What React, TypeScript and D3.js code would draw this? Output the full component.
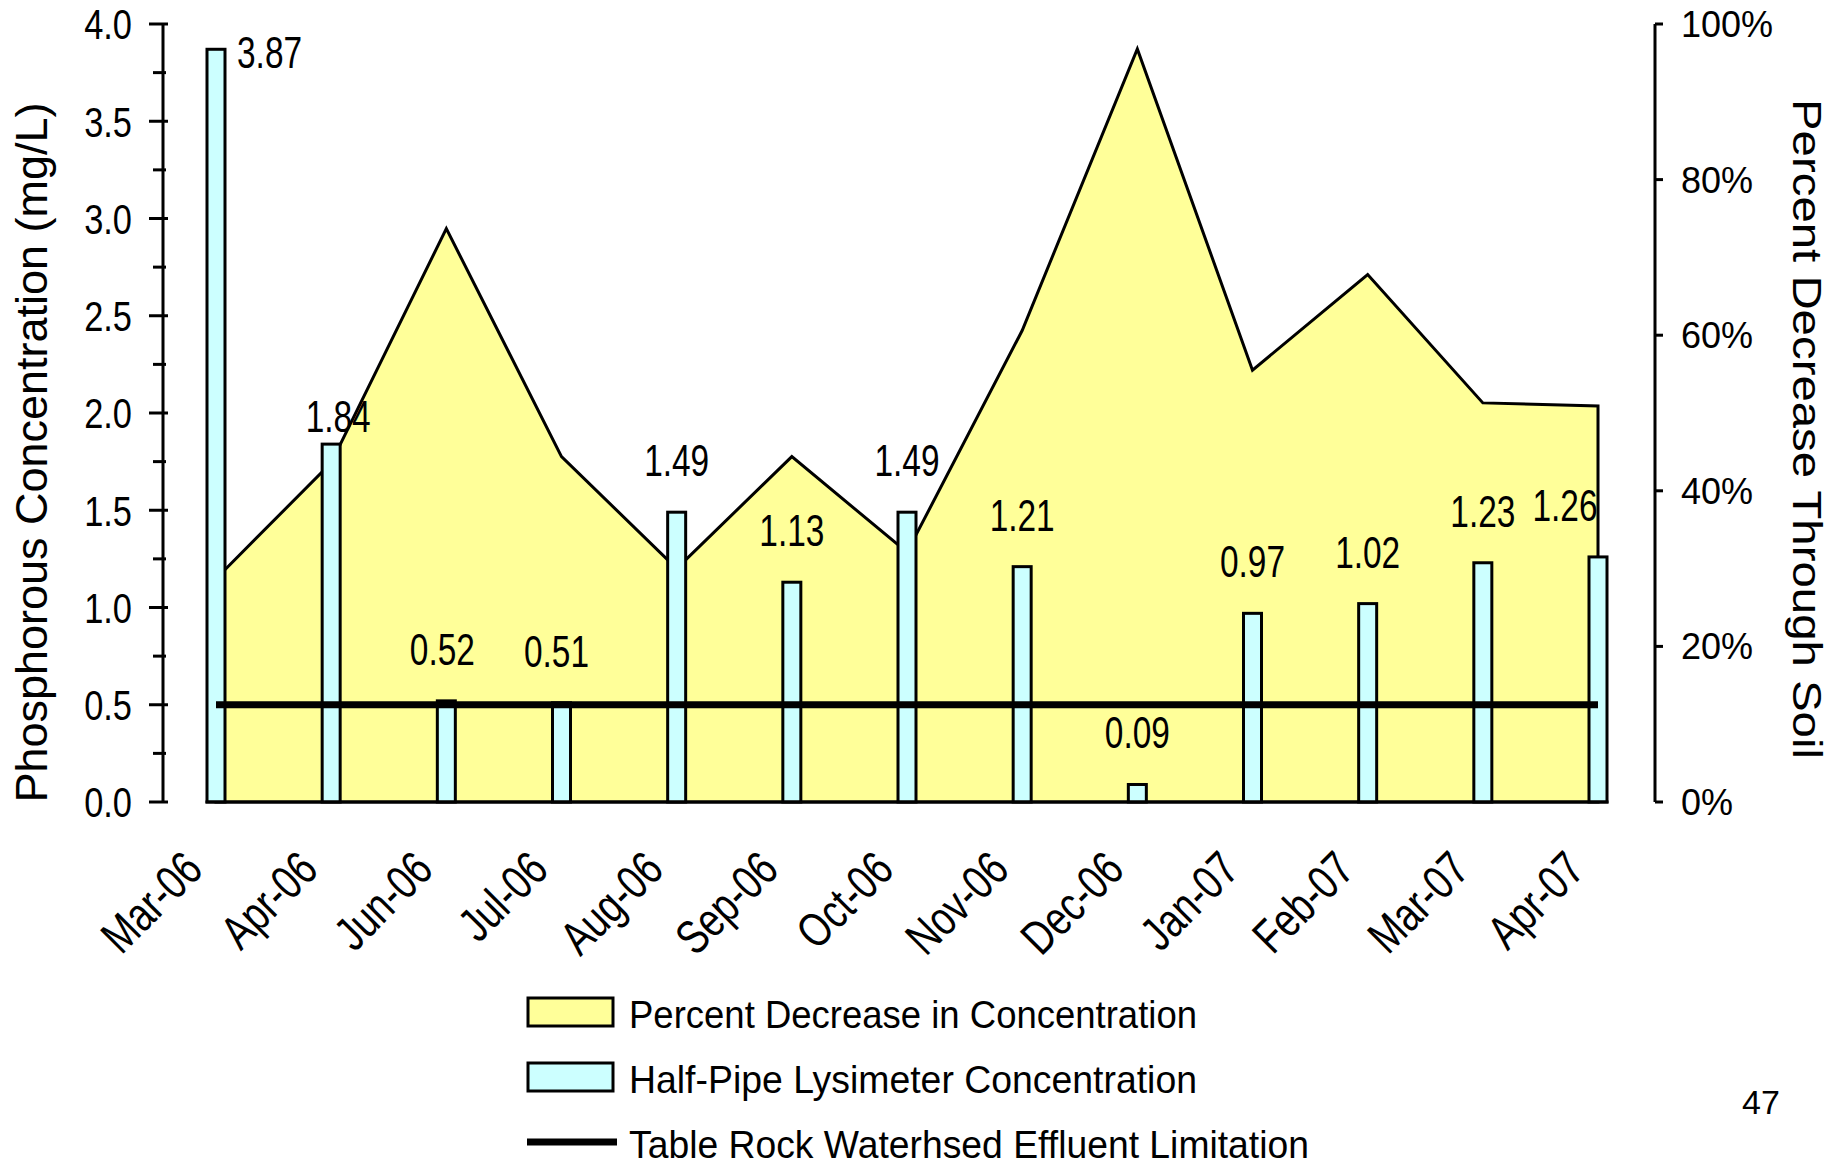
import React from "react";
import * as d3 from "d3";

// Monthly sampling dates
const categories = [
  "Mar-06", "Apr-06", "Jun-06", "Jul-06", "Aug-06", "Sep-06", "Oct-06",
  "Nov-06", "Dec-06", "Jan-07", "Feb-07", "Mar-07", "Apr-07",
];

// Half-pipe lysimeter phosphorous concentration (mg/L)
const lysimeter = [3.87, 1.84, 0.52, 0.51, 1.49, 1.13, 1.49, 1.21, 0.09, 0.97, 1.02, 1.23, 1.26];

// Percent decrease in concentration through soil (fraction)
const percentDecrease = [0.287, 0.436, 0.737, 0.444, 0.30, 0.444, 0.321, 0.606, 0.968, 0.555, 0.678, 0.513, 0.509];

// Table Rock watershed effluent limitation (mg/L)
const effluentLimit = 0.5;

const leftTicks = [0, 0.5, 1, 1.5, 2, 2.5, 3, 3.5, 4];
const leftMinorTicks = [0.25, 0.75, 1.25, 1.75, 2.25, 2.75, 3.25, 3.75];
const rightTicks = [0, 0.2, 0.4, 0.6, 0.8, 1];

// Manual nudges for a few data labels (px)
const labelDx = [0, 7, -4, -5, 0, 0, 0, 0, 0, 0, 0, 0, -33];
const labelDy = [0, 24, 0, 0, 0, 0, 0, 0, 0, 0, 0, 0, 0];

const legendItems = [
  { label: "Percent Decrease in Concentration", kind: "area", len: 568 },
  { label: "Half-Pipe Lysimeter Concentration", kind: "bar", len: 568 },
  { label: "Table Rock Waterhsed Effluent Limitation", kind: "line", len: 680 },
];

const W = 1831;
const H = 1167;
const AREA_FILL = "#FFFF99";
const BAR_FILL = "#CCFFFF";
const SANS = "'Liberation Sans', Arial, sans-serif";

// Horizontally condensed text, positioned at (x, y) with optional rotation
function CText({
  x, y, rotate = 0, sx = 0.8, size = 40, anchor = "start", dy, children,
}: {
  x: number; y: number; rotate?: number; sx?: number; size?: number;
  anchor?: string; dy?: string; children: React.ReactNode;
}) {
  return (
    <text
      transform={`translate(${x}, ${y}) rotate(${rotate}) scale(${sx}, 1)`}
      textAnchor={anchor}
      dy={dy}
      fontFamily={SANS}
      fontSize={size}
      fill="#000"
    >
      {children}
    </text>
  );
}

export default function App() {
  const x = d3.scalePoint<string>().domain(categories).range([216, 1598]);
  const yL = d3.scaleLinear().domain([0, 4]).range([802, 24]);
  const yR = d3.scaleLinear().domain([0, 1]).range([802, 24]);
  const barW = 18;

  const areaGen = d3
    .area<number>()
    .x((_, i) => x(categories[i]) as number)
    .y0(yR(0))
    .y1((d) => yR(d));

  const axisLeftX = 163;
  const axisRightX = 1655;
  const firstX = x(categories[0]) as number;
  const lastX = x(categories[categories.length - 1]) as number;

  return (
    <svg
      width={W}
      height={H}
      viewBox={`0 0 ${W} ${H}`}
      style={{ position: "absolute", left: 0, top: 0, background: "#fff" }}
    >
      {/* Percent decrease area (right axis) */}
      <path
        d={areaGen(percentDecrease) || ""}
        fill={AREA_FILL}
        stroke="#000"
        strokeWidth={3}
        strokeLinejoin="miter"
      />

      {/* Lysimeter bars (left axis) */}
      {lysimeter.map((v, i) => {
        const cx = x(categories[i]) as number;
        return (
          <rect
            key={categories[i]}
            x={cx - barW / 2}
            y={yL(v)}
            width={barW}
            height={yL(0) - yL(v)}
            fill={BAR_FILL}
            stroke="#000"
            strokeWidth={3}
          />
        );
      })}

      {/* Effluent limitation line */}
      <line
        x1={firstX}
        x2={lastX}
        y1={yL(effluentLimit)}
        y2={yL(effluentLimit)}
        stroke="#000"
        strokeWidth={7}
      />

      {/* Category baseline */}
      <line
        x1={firstX - barW / 2 - 1.5}
        x2={lastX + barW / 2 + 1.5}
        y1={yL(0)}
        y2={yL(0)}
        stroke="#000"
        strokeWidth={3}
      />

      {/* Bar value labels */}
      {lysimeter.map((v, i) => {
        const cx = x(categories[i]) as number;
        if (i === 0) {
          return (
            <CText key={"l" + i} x={cx + barW / 2 + 12} y={yL(v) + 19} sx={0.76} size={44}>
              {v.toFixed(2)}
            </CText>
          );
        }
        return (
          <CText
            key={"l" + i}
            x={cx + labelDx[i]}
            y={yL(v) - 36 + labelDy[i]}
            anchor="middle"
            sx={0.76}
            size={44}
          >
            {v.toFixed(2)}
          </CText>
        );
      })}

      {/* Left axis */}
      <line x1={axisLeftX} x2={axisLeftX} y1={yL(4)} y2={yL(0)} stroke="#000" strokeWidth={3} />
      {leftTicks.map((t) => (
        <g key={"lt" + t}>
          <line x1={axisLeftX - 14} x2={axisLeftX + 5} y1={yL(t)} y2={yL(t)} stroke="#000" strokeWidth={3} />
          <CText x={132} y={yL(t)} dy="0.36em" anchor="end" sx={0.8} size={43}>
            {t.toFixed(1)}
          </CText>
        </g>
      ))}
      {leftMinorTicks.map((t) => (
        <line key={"lm" + t} x1={axisLeftX - 10} x2={axisLeftX + 3} y1={yL(t)} y2={yL(t)} stroke="#000" strokeWidth={3} />
      ))}
      <text
        transform={`translate(47, ${(yL(0) + 103) / 2}) rotate(-90)`}
        textAnchor="middle"
        fontFamily={SANS}
        fontSize={44}
        textLength={700}
        lengthAdjust="spacingAndGlyphs"
        fill="#000"
      >
        Phosphorous Concentration (mg/L)
      </text>

      {/* Right axis */}
      <line x1={axisRightX} x2={axisRightX} y1={yR(1)} y2={yR(0)} stroke="#000" strokeWidth={3} />
      {rightTicks.map((t) => (
        <g key={"rt" + t}>
          <line x1={axisRightX} x2={axisRightX + 8} y1={yR(t)} y2={yR(t)} stroke="#000" strokeWidth={3} />
          <text x={1681} y={yR(t)} dy="0.36em" fontFamily={SANS} fontSize={36} fill="#000">
            {d3.format(".0%")(t)}
          </text>
        </g>
      ))}
      <text
        transform={`translate(1793, 429) rotate(90)`}
        textAnchor="middle"
        fontFamily={SANS}
        fontSize={41}
        textLength={660}
        lengthAdjust="spacingAndGlyphs"
        fill="#000"
      >
        Percent Decrease Through Soil
      </text>

      {/* Category labels */}
      {categories.map((c) => {
        const cx = x(c) as number;
        return (
          <CText key={"c" + c} x={cx - 11} y={872} rotate={-45} anchor="end" sx={0.78} size={48}>
            {c}
          </CText>
        );
      })}

      {/* Legend */}
      {legendItems.map((it, i) => {
        const rowY = 1012 + i * 65;
        return (
          <g key={it.label}>
            {it.kind === "line" ? (
              <line x1={527} x2={617} y1={rowY} y2={rowY} stroke="#000" strokeWidth={7} />
            ) : (
              <rect
                x={528}
                y={rowY - 14}
                width={85}
                height={28}
                fill={it.kind === "area" ? AREA_FILL : BAR_FILL}
                stroke="#000"
                strokeWidth={3}
              />
            )}
            <text
              x={629}
              y={rowY + 16}
              fontFamily={SANS}
              fontSize={39}
              textLength={it.len}
              lengthAdjust="spacingAndGlyphs"
              fill="#000"
            >
              {it.label}
            </text>
          </g>
        );
      })}

      {/* Page number */}
      <text x={1742} y={1114} fontFamily={SANS} fontSize={34} fill="#000">
        47
      </text>
    </svg>
  );
}
